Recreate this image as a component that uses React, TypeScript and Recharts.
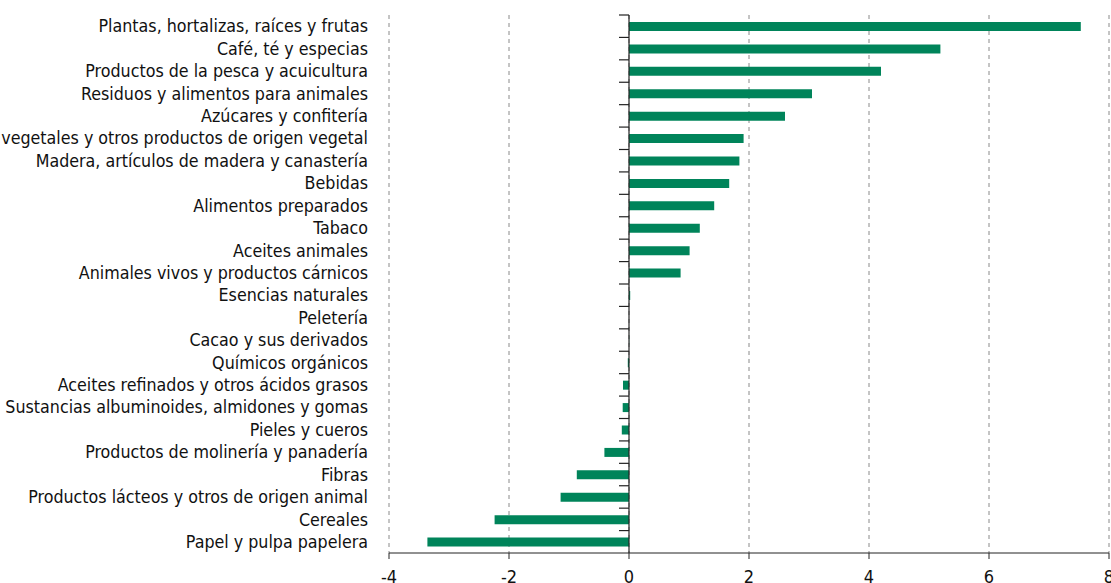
import React from 'react';
import { BarChart, Bar, XAxis, YAxis, CartesianGrid, ReferenceLine } from 'recharts';

const categories = [
  'Plantas, hortalizas, raíces y frutas',
  'Café, té y especias',
  'Productos de la pesca y acuicultura',
  'Residuos y alimentos para animales',
  'Azúcares y confitería',
  'vegetales y otros productos de origen vegetal',
  'Madera, artículos de madera y canastería',
  'Bebidas',
  'Alimentos preparados',
  'Tabaco',
  'Aceites animales',
  'Animales vivos y productos cárnicos',
  'Esencias naturales',
  'Peletería',
  'Cacao y sus derivados',
  'Químicos orgánicos',
  'Aceites refinados y otros ácidos grasos',
  'Sustancias albuminoides, almidones y gomas',
  'Pieles y cueros',
  'Productos de molinería y panadería',
  'Fibras',
  'Productos lácteos y otros de origen animal',
  'Cereales',
  'Papel y pulpa papelera',
];

const values = [
  7.53, 5.19, 4.2, 3.05, 2.6, 1.91, 1.84, 1.67, 1.42, 1.18, 1.01, 0.86,
  0.02, 0, 0.003, -0.02, -0.1, -0.105, -0.12, -0.41, -0.87, -1.14, -2.24, -3.36,
];

const xTicks = [-4, -2, 0, 2, 4, 6, 8];

const data = categories.map((name, i) => ({ name, value: values[i] }));

const W = 1111;
const H = 583;
const MARGIN = { top: 15, right: 2, left: 0, bottom: 0 };
const YAXIS_W = 389;
const XAXIS_H = 30;
const FONT = '"Liberation Sans Narrow", "DejaVu Sans Condensed", "Roboto Condensed", sans-serif';

const plotLeft = MARGIN.left + YAXIS_W;
const plotWidth = W - plotLeft - MARGIN.right;
const plotHeight = H - MARGIN.top - MARGIN.bottom - XAXIS_H;
const band = plotHeight / categories.length;
const zeroX = plotLeft + ((0 - xTicks[0]) / (xTicks[xTicks.length - 1] - xTicks[0])) * plotWidth;

const CatTick = (props: any) => {
  const { x, y, payload } = props;
  return (
    <g>
      <line x1={zeroX - 10} x2={zeroX} y1={y - band / 2} y2={y - band / 2} stroke="#222" strokeWidth={1.2} />
      <text x={x - 13} y={y} dy="0.35em" textAnchor="end" fontFamily={FONT} fontSize={17.7} fill="#111">
        {payload.value}
      </text>
    </g>
  );
};

export default function App() {
  return (
    <div style={{ position: 'absolute', left: 0, top: 0, background: '#fff' }}>
      <BarChart
        width={W}
        height={H}
        data={data}
        layout="vertical"
        margin={MARGIN}
        barCategoryGap="30%"
      >
        <CartesianGrid horizontal={false} stroke="#8a8a8a" strokeDasharray="4 4" />
        <XAxis
          type="number"
          domain={[-4, 8]}
          ticks={xTicks}
          height={XAXIS_H}
          stroke="#222"
          tickSize={6}
          tickMargin={11}
          tick={{ fontFamily: FONT, fontSize: 18, fill: '#111' }}
          interval={0}
        />
        <YAxis
          type="category"
          dataKey="name"
          width={YAXIS_W}
          axisLine={false}
          tickLine={false}
          interval={0}
          tick={<CatTick />}
        />
        <ReferenceLine x={0} stroke="#222" strokeWidth={1.2} />
        <Bar dataKey="value" fill="#00845a" barSize={9} isAnimationActive={false} />
      </BarChart>
    </div>
  );
}
